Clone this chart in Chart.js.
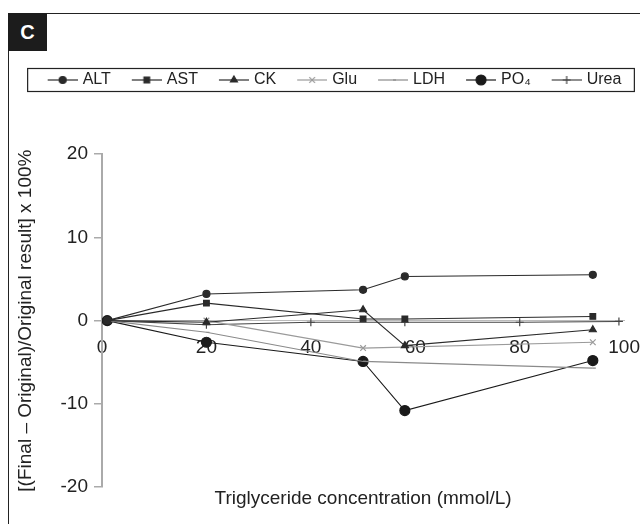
<!DOCTYPE html>
<html>
<head>
<meta charset="utf-8">
<script src="https://cdn.jsdelivr.net/npm/chart.js@4.4.1/dist/chart.umd.min.js"></script>
<style>
  body { margin: 0; background: #fff; }
  #wrap { position: relative; width: 640px; height: 524px; overflow: hidden; }
  #frame { position: absolute; left: 8px; top: 13px; right: -4px; bottom: -4px;
           border-top: 1.5px solid #222; border-left: 1.5px solid #222; }
  #tag { position: absolute; left: 8px; top: 13px; width: 39px; height: 38px; background: #1c1c1c;
         color: #fff; font: bold 20px "Liberation Sans", Arial, sans-serif; text-align: center; line-height: 38px; }
  canvas { position: absolute; left: 0; top: 0; }
</style>
</head>
<body>
<div id="wrap">
  <div id="frame"></div>
  <div id="tag">C</div>
  <canvas id="myChart" width="640" height="524"></canvas>
</div>
<script>
const FONT = '"Liberation Sans", Arial, sans-serif';

// series names
const analytes = ['ALT', 'AST', 'CK', 'Glu', 'LDH', 'PO\u2084', 'Urea'];

// triglyceride concentrations (mmol/L)
const concMain = [1, 20, 50, 58, 94];
const concGlu = [1, 20, 50, 94];
const concLdh = [1, 20, 50, 94];
const concUrea = [1, 20, 40, 58, 80, 99];

// % change values
const altValues = [0, 3.2, 3.7, 5.3, 5.5];
const astValues = [0, 2.1, 0.2, 0.2, 0.5];
const ckValues = [0, -0.2, 1.3, -3.0, -1.1];
const gluValues = [0, 0, -3.3, -2.6];
const ldhValues = [0, -1.4, -4.9, -5.7];
const po4Values = [0, -2.6, -4.9, -10.8, -4.8];
const ureaValues = [0, -0.5, -0.2, -0.2, -0.2, -0.1];

const xTicks = [0, 20, 40, 60, 80, 100];
const yTicks = [-20, -10, 0, 10, 20];

const pts = (xs, ys) => xs.map((x, i) => ({ x: x, y: ys[i] }));

// marker look per series
const looks = [
  { style: 'circle', r: 3.5, color: '#2a2a2a' },
  { style: 'rect', r: 4, color: '#2a2a2a' },
  { style: 'triangle', r: 4, color: '#2a2a2a' },
  { style: 'crossRot', r: 4, color: '#9a9a9a' },
  { style: 'dash', r: 3, color: '#8a8a8a' },
  { style: 'circle', r: 5, color: '#1a1a1a' },
  { style: 'cross', r: 4, color: '#444' }
];

const seriesData = [
  pts(concMain, altValues),
  pts(concMain, astValues),
  pts(concMain, ckValues),
  pts(concGlu, gluValues),
  pts(concLdh, ldhValues),
  pts(concMain, po4Values),
  pts(concUrea, ureaValues)
];

function makeIcon(look) {
  const c = document.createElement('canvas');
  c.width = 46; c.height = 14;
  const g = c.getContext('2d');
  g.strokeStyle = look.color;
  g.fillStyle = look.color;
  g.lineWidth = 1.2;
  g.beginPath(); g.moveTo(16, 7); g.lineTo(46, 7); g.stroke();
  if (Chart.helpers && Chart.helpers.drawPoint) {
    Chart.helpers.drawPoint(g, { pointStyle: look.style, radius: look.r, borderWidth: 1.2, rotation: 0 }, 31, 7);
  }
  return c;
}
const icons = looks.map(makeIcon);

const datasets = analytes.map((name, i) => ({
  label: name,
  data: seriesData[i],
  borderColor: looks[i].color,
  backgroundColor: looks[i].color,
  borderWidth: 1.1,
  pointStyle: looks[i].style,
  pointRadius: looks[i].r,
  pointBorderWidth: 1.2,
  pointBackgroundColor: looks[i].color,
  pointBorderColor: looks[i].color,
  tension: 0
}));

const legendBox = {
  id: 'legendBox',
  afterDraw(chart) {
    const hb = chart.legend && chart.legend.legendHitBoxes;
    if (!hb || !hb.length) return;
    const last = hb[hb.length - 1];
    const yc = hb[0].top + hb[0].height / 2;
    const ctx = chart.ctx;
    ctx.save();
    ctx.strokeStyle = '#222';
    ctx.lineWidth = 1.2;
    ctx.strokeRect(hb[0].left - 7, yc - 11.5, last.left + last.width + 13 - (hb[0].left - 7), 23);
    ctx.restore();
  }
};

const ctx = document.getElementById('myChart');

new Chart(ctx, {
  type: 'line',
  data: { datasets: datasets },
  plugins: [legendBox],
  options: {
    responsive: false,
    animation: false,
    layout: { padding: { top: 64, left: 16, right: 0, bottom: 0 } },
    scales: {
      x: {
        type: 'linear',
        position: { y: 0 },
        min: 0,
        max: 100,
        afterBuildTicks: s => { s.ticks = xTicks.map(v => ({ value: v })); },
        ticks: { padding: 0, color: '#222', font: { size: 19, family: FONT } },
        // invisible tick marks only push the labels below the zero line
        grid: { display: true, drawOnChartArea: false, drawTicks: true, tickLength: 16, color: 'rgba(0,0,0,0)' },
        border: { display: true, color: '#bbb', width: 1 }
      },
      y: {
        type: 'linear',
        position: 'left',
        min: -20,
        max: 20,
        afterBuildTicks: s => { s.ticks = yTicks.map(v => ({ value: v })); },
        afterFit: s => { s.width = 86; },
        ticks: { padding: 6, color: '#222', font: { size: 19, family: FONT } },
        grid: { drawOnChartArea: false, tickLength: 8, color: '#aaa', lineWidth: 1.5 },
        border: { color: '#aaa', width: 2 },
        title: {
          display: true,
          text: '[(Final \u2013 Original)/Original result] x 100%',
          color: '#222',
          font: { size: 19, family: FONT, lineHeight: 1 },
          padding: { top: 0, bottom: 0 }
        }
      },
      yr: {
        type: 'linear',
        position: 'right',
        display: true,
        ticks: { display: false },
        grid: { display: false, drawTicks: false },
        border: { display: false },
        afterFit: s => { s.width = 15; }
      }
    },
    plugins: {
      tooltip: { enabled: false },
      legend: {
        position: 'top',
        align: 'center',
        labels: {
          usePointStyle: true,
          pointStyleWidth: 40,
          padding: 8,
          color: '#222',
          font: { size: 16, family: FONT },
          generateLabels(chart) {
            return Chart.defaults.plugins.legend.labels.generateLabels(chart)
              .map((item, i) => Object.assign(item, { pointStyle: icons[i] }));
          }
        }
      },
      subtitle: {
        display: true,
        text: '',
        position: 'top',
        weight: 500,
        font: { size: 10, lineHeight: 1 },
        padding: { top: 0, bottom: 46 }
      },
      title: {
        display: true,
        text: 'Triglyceride concentration (mmol/L)',
        position: 'bottom',
        fullSize: false,
        color: '#222',
        font: { size: 19, family: FONT, weight: 'normal' },
        padding: { top: 0, bottom: 14 }
      }
    }
  }
});
</script>
</body>
</html>
